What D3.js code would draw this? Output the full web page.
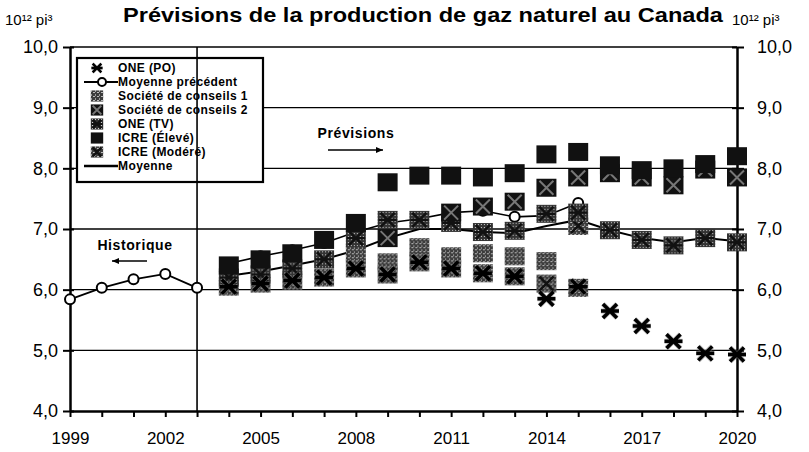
<!DOCTYPE html>
<html>
<head>
<meta charset="utf-8">
<title>Prévisions gaz naturel</title>
<script src="https://d3js.org/d3.v7.min.js"></script>
<style>
*{margin:0;padding:0;}
body{background:#fff;}
svg{font-family:"Liberation Sans",Arial,sans-serif;}
</style>
</head>
<body>
<svg id="chart" width="809" height="452"></svg>
<script>
// historique (moyenne, 1999-2003)
var histYears = [1999, 2000, 2001, 2002, 2003];
var histValues = [5.84, 6.03, 6.17, 6.26, 6.03];

var years = [2004, 2005, 2006, 2007, 2008, 2009, 2010, 2011, 2012, 2013, 2014, 2015, 2016, 2017, 2018, 2019, 2020];
var onePO      = [6.05, 6.1, 6.15, 6.2, 6.35, 6.25, 6.45, 6.35, 6.27, 6.22, 5.85, 6.05, 5.65, 5.4, 5.15, 4.95, 4.93];
var moyPrec    = [6.43, 6.55, 6.65, 6.77, 6.95, 7.1, 7.17, 7.27, 7.3, 7.2, 7.22, 7.43, null, null, null, null, null];
var societe1   = [null, null, null, null, 6.6, 6.45, 6.7, 6.55, 6.6, 6.55, 6.47, 6.03, null, null, null, null, null];
var societe2   = [null, null, null, null, null, 6.85, null, 7.27, 7.37, 7.45, 7.68, 7.85, 7.92, 7.85, 7.72, 7.98, 7.85];
var oneTV      = [6.2, 6.25, 6.35, 6.5, 6.85, 7.15, 7.15, 7.1, 6.95, 6.97, 7.25, 7.27, 6.98, 6.82, 6.73, 6.85, 6.78];
var icreEleve  = [6.4, 6.5, 6.6, 6.82, 7.1, 7.77, 7.88, 7.88, 7.85, 7.92, 8.23, 8.27, 8.05, 7.97, 8.0, 8.07, 8.2];
var icreModere = [6.05, 6.1, 6.15, 6.2, 6.35, 6.25, 6.45, 6.35, 6.27, 6.22, 6.1, 7.05, null, null, null, null, null];
var moyenne    = [6.23, 6.3, 6.4, 6.5, 6.65, 6.85, 7.0, 7.0, 6.95, 6.93, 7.05, 7.15, 6.98, 6.85, 6.78, 6.85, 6.8];

var yTicks = [4, 5, 6, 7, 8, 9, 10];
var gridValues = [5, 6, 7, 8, 9];
var allYears = [1999, 2000, 2001, 2002, 2003, 2004, 2005, 2006, 2007, 2008, 2009, 2010, 2011, 2012, 2013, 2014, 2015, 2016, 2017, 2018, 2019, 2020];
var yearLabels = [1999, 2002, 2005, 2008, 2011, 2014, 2017, 2020];

var legendItems = [
	{label: "ONE (PO)", kind: "po"},
	{label: "Moyenne précédent", kind: "prec"},
	{label: "Société de conseils 1", kind: "soc1"},
	{label: "Société de conseils 2", kind: "soc2"},
	{label: "ONE (TV)", kind: "tv"},
	{label: "ICRE (Élevé)", kind: "eleve"},
	{label: "ICRE (Modéré)", kind: "modere"},
	{label: "Moyenne", kind: "moy"}
];

var svg = d3.select("#chart");
var x = d3.scaleLinear().domain([1999, 2020]).range([70, 737]);
var y = d3.scaleLinear().domain([4, 10]).range([411, 47]);
var fr = d3.formatLocale({decimal: ",", thousands: " ", grouping: [3], currency: ["", " $"]});
var fmt = fr.format(".1f");

// textures grises (aspect scanné)
var defs = svg.append("defs");
var p1 = defs.append("pattern").attr("id", "speck").attr("width", 3).attr("height", 3).attr("patternUnits", "userSpaceOnUse");
p1.append("rect").attr("width", 3).attr("height", 3).attr("fill", "#333");
p1.append("rect").attr("x", 1).attr("y", 1).attr("width", 1).attr("height", 1).attr("fill", "#ccc");
var p2 = defs.append("pattern").attr("id", "speck2").attr("width", 4).attr("height", 4).attr("patternUnits", "userSpaceOnUse");
p2.append("rect").attr("width", 4).attr("height", 4).attr("fill", "#3c3c3c");
p2.append("rect").attr("x", 0).attr("y", 0).attr("width", 2).attr("height", 1).attr("fill", "#bbb");
p2.append("rect").attr("x", 2).attr("y", 2).attr("width", 1).attr("height", 2).attr("fill", "#999");

// titre et unités
svg.append("text").attr("x", 423).attr("y", 22).attr("text-anchor", "middle")
	.attr("textLength", 600).attr("lengthAdjust", "spacingAndGlyphs")
	.style("font-size", "21px").style("font-weight", "bold")
	.text("Prévisions de la production de gaz naturel au Canada");
svg.append("text").attr("x", 5).attr("y", 25).style("font-size", "15px").text("10¹² pi³");
svg.append("text").attr("x", 732).attr("y", 25).style("font-size", "15px").text("10¹² pi³");

// quadrillage
var grid = svg.append("g");
grid.selectAll("line.h").data(gridValues).enter().append("line")
	.attr("x1", x(1999)).attr("x2", x(2020))
	.attr("y1", function(d){ return y(d); }).attr("y2", function(d){ return y(d); })
	.attr("stroke", "#000").attr("stroke-width", 1.4);
grid.append("line").attr("x1", x(1999)).attr("x2", x(2020)).attr("y1", y(10)).attr("y2", y(10))
	.attr("stroke", "#000").attr("stroke-width", 1.4);

// axes
var left = svg.append("g").attr("transform", "translate(" + x(1999) + ",0)")
	.call(d3.axisLeft(y).tickValues(yTicks).tickFormat(fmt).tickSizeInner(7).tickSizeOuter(0).tickPadding(5));
var right = svg.append("g").attr("transform", "translate(" + x(2020) + ",0)")
	.call(d3.axisRight(y).tickValues(yTicks).tickFormat(fmt).tickSizeInner(7).tickSizeOuter(0).tickPadding(13));
var bottom = svg.append("g").attr("transform", "translate(0," + y(4) + ")")
	.call(d3.axisBottom(x).tickValues(allYears)
		.tickFormat(function(d){ return yearLabels.indexOf(d) >= 0 ? d : ""; })
		.tickSizeInner(6).tickSizeOuter(0).tickPadding(15));
[left, right, bottom].forEach(function(a){
	a.select(".domain").attr("stroke", "#000").attr("stroke-width", 2.5);
	a.selectAll(".tick line").attr("stroke", "#000").attr("stroke-width", 2);
	a.selectAll("text").attr("fill", "#000").style("font-size", "18px").style("font-family", "'Liberation Sans',Arial,sans-serif");
});
bottom.selectAll("text").style("font-size", "17px");
right.selectAll(".tick").append("line").attr("x1", -5).attr("x2", 0).attr("stroke", "#000").attr("stroke-width", 2);
left.selectAll(".tick").append("line").attr("x1", 0).attr("x2", 4).attr("stroke", "#000").attr("stroke-width", 2);

// légende (fond)
var legend = svg.append("g");
legend.append("rect").attr("x", 77).attr("y", 58).attr("width", 186).attr("height", 124)
	.attr("fill", "#fff").attr("stroke", "#000").attr("stroke-width", 2.2);

// séparation historique / prévisions
svg.append("line").attr("x1", x(2003)).attr("x2", x(2003)).attr("y1", y(10)).attr("y2", y(4))
	.attr("stroke", "#000").attr("stroke-width", 1.6);

// annotations
svg.append("text").attr("x", 135).attr("y", 250).attr("text-anchor", "middle")
	.style("font-size", "14px").style("font-weight", "bold").style("letter-spacing", "0.6px").text("Historique");
svg.append("text").attr("x", 356).attr("y", 138).attr("text-anchor", "middle")
	.style("font-size", "14px").style("font-weight", "bold").style("letter-spacing", "0.6px").text("Prévisions");
function arrow(x1, x2, yy){
	var dir = x2 > x1 ? 1 : -1;
	svg.append("line").attr("x1", x1).attr("x2", x2).attr("y1", yy).attr("y2", yy).attr("stroke", "#000").attr("stroke-width", 1.3);
	svg.append("path").attr("d", "M" + x2 + "," + yy + "L" + (x2 - dir * 7) + "," + (yy - 3) + "L" + (x2 - dir * 7) + "," + (yy + 3) + "Z").attr("fill", "#000");
}
arrow(147, 112, 261);
arrow(328, 383, 150);

// marqueurs
function shape(sel, kind, s){
	var w = 20 * s, h = 18 * s;
	function box(fill){
		sel.append("rect").attr("x", -w / 2).attr("y", -h / 2).attr("width", w).attr("height", h).attr("fill", fill);
	}
	var a = 7 * s, b = 9 * s;
	var star = "M" + (-a) + "," + (-a) + "L" + a + "," + a + "M" + (-a) + "," + a + "L" + a + "," + (-a) + "M" + (-b) + ",0L" + b + ",0";
	var cross = "M" + (-a) + "," + (-a) + "L" + a + "," + a + "M" + (-a) + "," + a + "L" + a + "," + (-a);
	if (kind == "po") {
		sel.append("path").attr("d", star).attr("stroke", "#777").attr("stroke-width", 5 * s).attr("fill", "none").attr("opacity", 0.5);
		sel.append("path").attr("d", star).attr("stroke", "#000").attr("stroke-width", 3.2 * s + 0.3).attr("fill", "none");
	} else if (kind == "soc1") {
		box("url(#speck2)");
	} else if (kind == "soc2") {
		box("#111");
		sel.append("path").attr("d", cross).attr("stroke", "#777").attr("stroke-width", 2).attr("fill", "none");
	} else if (kind == "tv") {
		box("url(#speck)");
		sel.append("path").attr("d", star).attr("stroke", "#111").attr("stroke-width", 2.2).attr("fill", "none");
	} else if (kind == "eleve") {
		box("#111");
	} else if (kind == "modere") {
		box("url(#speck2)");
		sel.append("path").attr("d", cross).attr("stroke", "#111").attr("stroke-width", 2.4).attr("fill", "none");
	}
}

function pts(vals){
	return years.map(function(yr, i){ return {year: yr, v: vals[i]}; }).filter(function(d){ return d.v != null; });
}

var line = d3.line().x(function(d){ return x(d.year); }).y(function(d){ return y(d.v); });
var hist = histYears.map(function(yr, i){ return {year: yr, v: histValues[i]}; });

// lignes
svg.append("path").datum(hist).attr("d", line).attr("fill", "none").attr("stroke", "#000").attr("stroke-width", 1.8);
svg.append("path").datum(pts(moyPrec)).attr("d", line).attr("fill", "none").attr("stroke", "#000").attr("stroke-width", 1.6);
svg.append("path").datum(pts(moyenne)).attr("d", line).attr("fill", "none").attr("stroke", "#000").attr("stroke-width", 2);
svg.selectAll("circle.h").data(hist.concat(pts(moyPrec))).enter().append("circle")
	.attr("cx", function(d){ return x(d.year); }).attr("cy", function(d){ return y(d.v); })
	.attr("r", 5).attr("fill", "#fff").attr("stroke", "#000").attr("stroke-width", 2);

var series = [
	{vals: societe1, kind: "soc1"},
	{vals: icreModere, kind: "modere"},
	{vals: oneTV, kind: "tv"},
	{vals: societe2, kind: "soc2"},
	{vals: icreEleve, kind: "eleve"},
	{vals: onePO, kind: "po"}
];
series.forEach(function(sr){
	svg.append("g").selectAll("g").data(pts(sr.vals)).enter().append("g")
		.attr("transform", function(d){ return "translate(" + x(d.year) + "," + y(d.v) + ")"; })
		.each(function(){ shape(d3.select(this), sr.kind, 1); });
});

// légende (contenu)
var rowY = d3.scalePoint().domain(d3.range(legendItems.length)).range([68, 166]);
var rows = legend.selectAll("g.row").data(legendItems).enter().append("g")
	.attr("transform", function(d, i){ return "translate(0," + rowY(i) + ")"; });
rows.each(function(d){
	var g = d3.select(this);
	if (d.kind == "prec") {
		g.append("line").attr("x1", 84).attr("x2", 118).attr("stroke", "#000").attr("stroke-width", 2);
		g.append("circle").attr("cx", 102).attr("r", 4).attr("fill", "#fff").attr("stroke", "#000").attr("stroke-width", 2);
	} else if (d.kind == "moy") {
		g.append("line").attr("x1", 84).attr("x2", 118).attr("stroke", "#000").attr("stroke-width", 2.5);
	} else {
		var m = g.append("g").attr("transform", "translate(97,0)");
		shape(m, d.kind, 0.62);
	}
	g.append("text").attr("x", 118).attr("dy", "0.35em").style("font-size", "12px").style("font-weight", "bold")
		.style("letter-spacing", "0.4px").text(d.label);
});
</script>
</body>
</html>
